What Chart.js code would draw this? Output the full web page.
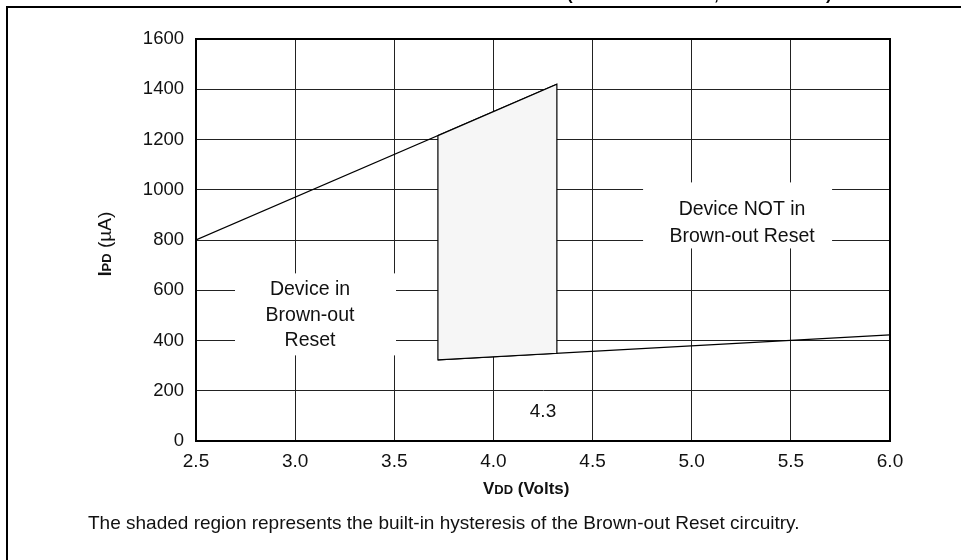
<!DOCTYPE html>
<html>
<head>
<meta charset="utf-8">
<script src="https://cdn.jsdelivr.net/npm/chart.js@4.4.1/dist/chart.umd.min.js"></script>
<style>
  html, body { margin: 0; padding: 0; background: #fff; }
  canvas { display: block; }
</style>
</head>
<body>
<canvas id="c" width="961" height="560"></canvas>
<script>
// Brown-out reset trip curves: IPD (µA) against VDD (V)
const upperVdd = [2.5, 4.32];
const upperIpd = [800, 1420];
const lowerVdd = [3.72, 6.0];
const lowerIpd = [323, 422];
// Hysteresis band edges (V)
const tripLow = 3.72;
const tripHigh = 4.32;

const xTicks = [2.5, 3.0, 3.5, 4.0, 4.5, 5.0, 5.5, 6.0];
const yTicks = [0, 200, 400, 600, 800, 1000, 1200, 1400, 1600];

const FONT = '"Liberation Sans", Arial, Helvetica, sans-serif';

function lineAt(vs, is, v) {
  return is[0] + (is[1] - is[0]) * (v - vs[0]) / (vs[1] - vs[0]);
}

const upperLine = upperVdd.map((v, k) => ({ x: v, y: upperIpd[k] }));
const lowerLine = lowerVdd.map((v, k) => ({ x: v, y: lowerIpd[k] }));
const band = [
  { x: tripLow, y: lineAt(upperVdd, upperIpd, tripLow) },
  { x: tripHigh, y: lineAt(upperVdd, upperIpd, tripHigh) },
  { x: tripHigh, y: lineAt(lowerVdd, lowerIpd, tripHigh) },
  { x: tripLow, y: lineAt(lowerVdd, lowerIpd, tripLow) },
  { x: tripLow, y: lineAt(upperVdd, upperIpd, tripLow) }
];

// Region labels, anchored in data space; box = white knock-out behind the text
const regionLabels = [
  { x: 3.075, y: 500, lines: ['Device in', 'Brown-out', 'Reset'], box: [-75, -42, 161, 82], lineGap: 25.5 },
  { x: 5.254, y: 866, lines: ['Device NOT in', 'Brown-out Reset'], box: [-99, -41, 189, 66], lineGap: 27 }
];

const decor = {
  id: 'decor',
  beforeDraw(chart) {
    const ctx = chart.ctx;
    ctx.save();
    ctx.fillStyle = '#fff';
    ctx.fillRect(0, 0, chart.width, chart.height);
    // outer figure frame
    ctx.strokeStyle = '#000';
    ctx.lineWidth = 2;
    ctx.beginPath();
    ctx.moveTo(chart.width + 2, 7);
    ctx.lineTo(7, 7);
    ctx.lineTo(7, chart.height + 2);
    ctx.stroke();
    // figure heading, mostly above the frame
    ctx.fillStyle = '#000';
    ctx.font = 'bold 17px ' + FONT;
    ctx.textBaseline = 'alphabetic';
    ctx.textAlign = 'left';
    ctx.fillText('(', 567, 0);
    ctx.fillText(',', 714, 0);
    ctx.fillText(')', 826, 0);
    ctx.restore();
  },
  beforeDatasetsDraw(chart) {
    const ctx = chart.ctx;
    const xs = chart.scales.x, ys = chart.scales.y;
    ctx.save();
    ctx.fillStyle = '#fff';
    regionLabels.forEach(l => {
      const cx = xs.getPixelForValue(l.x), cy = ys.getPixelForValue(l.y);
      ctx.fillRect(cx + l.box[0], cy + l.box[1], l.box[2], l.box[3]);
    });
    ctx.restore();
  },
  afterDraw(chart) {
    const ctx = chart.ctx;
    const a = chart.chartArea;
    const xs = chart.scales.x, ys = chart.scales.y;
    ctx.save();
    // plot frame
    ctx.strokeStyle = '#000';
    ctx.lineWidth = 2;
    ctx.strokeRect(a.left, a.top, a.right - a.left, a.bottom - a.top);

    ctx.fillStyle = '#111';
    ctx.textAlign = 'center';
    ctx.textBaseline = 'middle';
    ctx.font = '19.5px ' + FONT;
    regionLabels.forEach(l => {
      const cx = xs.getPixelForValue(l.x), cy = ys.getPixelForValue(l.y);
      const n = l.lines.length;
      l.lines.forEach((t, k) => {
        ctx.fillText(t, cx, cy + (k - (n - 1) / 2) * l.lineGap);
      });
    });
    // trip point marker
    ctx.font = '19px ' + FONT;
    ctx.fillText('4.3', xs.getPixelForValue(4.25), ys.getPixelForValue(118));

    // x axis title: VDD (Volts)
    ctx.textAlign = 'left';
    ctx.textBaseline = 'alphabetic';
    let x = 483;
    const by = 494;
    ctx.font = 'bold 17px ' + FONT;
    ctx.fillText('V', x, by); x += ctx.measureText('V').width;
    ctx.font = 'bold 13px ' + FONT;
    ctx.fillText('DD', x, by); x += ctx.measureText('DD').width;
    ctx.font = 'bold 17px ' + FONT;
    ctx.fillText(' (Volts)', x, by);

    // y axis title: IPD (µA)
    ctx.translate(111, 244);
    ctx.rotate(-Math.PI / 2);
    const parts = [
      ['I', 'bold 17.5px '], ['PD', 'bold 13px '], [' (\u00b5A)', '19px ']
    ];
    let w = 0;
    parts.forEach(p => { ctx.font = p[1] + FONT; w += ctx.measureText(p[0]).width; });
    let px = -w / 2;
    parts.forEach(p => {
      ctx.font = p[1] + FONT;
      ctx.fillText(p[0], px, 0);
      px += ctx.measureText(p[0]).width;
    });
    ctx.setTransform(1, 0, 0, 1, 0, 0);

    // caption
    ctx.font = '19px ' + FONT;
    ctx.fillStyle = '#111';
    ctx.fillText('The shaded region represents the built-in hysteresis of the Brown-out Reset circuitry.', 88, 529);
    ctx.restore();
  }
};

new Chart(document.getElementById('c'), {
  type: 'scatter',
  data: {
    datasets: [
      {
        data: band,
        showLine: true,
        fill: 'shape',
        backgroundColor: '#f6f6f6',
        borderColor: '#000',
        borderWidth: 1.2,
        pointRadius: 0,
        tension: 0
      },
      {
        data: upperLine,
        showLine: true,
        borderColor: '#000',
        borderWidth: 1.3,
        pointRadius: 0
      },
      {
        data: lowerLine,
        showLine: true,
        borderColor: '#000',
        borderWidth: 1.3,
        pointRadius: 0
      }
    ]
  },
  options: {
    responsive: false,
    animation: false,
    events: [],
    layout: { padding: { top: 39, right: 71, left: 0, bottom: 0 } },
    plugins: { legend: { display: false }, tooltip: { enabled: false } },
    scales: {
      x: {
        type: 'linear',
        min: 2.5, max: 6.0,
        afterFit(s) { s.height = 119; },
        afterBuildTicks(s) { s.ticks = xTicks.map(v => ({ value: v })); },
        ticks: {
          callback: v => v.toFixed(1),
          color: '#111',
          font: { family: FONT, size: 19 },
          padding: 9,
          maxRotation: 0
        },
        grid: { color: '#222', lineWidth: 1, drawTicks: false },
        border: { color: '#000', width: 2 }
      },
      y: {
        type: 'linear',
        min: 0, max: 1600,
        afterFit(s) { s.width = 196; },
        afterBuildTicks(s) { s.ticks = yTicks.map(v => ({ value: v })); },
        ticks: {
          callback: v => String(v),
          color: '#111',
          font: { family: FONT, size: 18.5 },
          padding: 12
        },
        grid: { color: '#222', lineWidth: 1, drawTicks: false },
        border: { color: '#000', width: 2 }
      }
    }
  },
  plugins: [decor]
});
</script>
</body>
</html>
